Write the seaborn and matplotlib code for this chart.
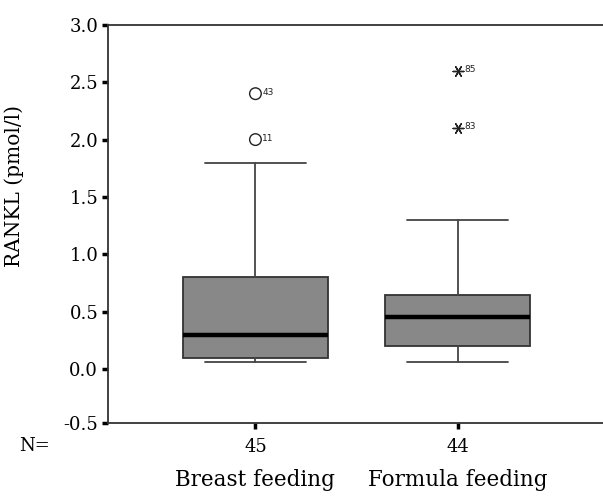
import numpy as np
import pandas as pd
import seaborn as sns
import matplotlib.pyplot as plt

# Summary values (SPSS-style boxplot)
groups = ["Breast feeding", "Formula feeding"]
n_counts = [45, 44]
medians = [0.30, 0.45]
q1 = [0.10, 0.20]
q3 = [0.80, 0.65]
whisker_low = [0.06, 0.06]
whisker_high = [1.80, 1.30]

# outliers (circles) and extremes (asterisks) with case numbers
out_group = ["Breast feeding", "Breast feeding", "Formula feeding", "Formula feeding"]
out_value = [2.0, 2.4, 2.1, 2.6]
out_case = ["11", "43", "83", "85"]
out_kind = ["outlier", "outlier", "extreme", "extreme"]

sns.set_theme(style="white")
plt.rcParams["font.family"] = ["DejaVu Serif"]

fig = plt.figure(figsize=(6.03, 4.96), dpi=100)
ax = fig.add_axes([0.179, 0.147, 0.821, 0.803])

stats = []
for i, g in enumerate(groups):
    stats.append({"med": medians[i], "q1": q1[i], "q3": q3[i],
                  "whislo": whisker_low[i], "whishi": whisker_high[i],
                  "fliers": [], "label": str(n_counts[i])})

edge = "#333333"
ax.bxp(stats, positions=range(len(groups)), widths=0.72, patch_artist=True,
       showfliers=False,
       boxprops=dict(facecolor="#888888", edgecolor=edge, linewidth=1.3),
       medianprops=dict(color="black", linewidth=3.2),
       whiskerprops=dict(color="#444444", linewidth=1.3),
       capprops=dict(color="#444444", linewidth=1.3),
       capwidths=0.5)

df_out = pd.DataFrame({"group": out_group, "value": out_value,
                       "case": out_case, "kind": out_kind})
df_out["x"] = df_out["group"].map({g: i for i, g in enumerate(groups)})

circ = df_out[df_out["kind"] == "outlier"]
ext = df_out[df_out["kind"] == "extreme"]
sns.scatterplot(data=circ, x="x", y="value", marker="o", s=70,
                facecolors="none", edgecolor="#222222", linewidth=1.0,
                legend=False, ax=ax)
sns.scatterplot(data=ext, x="x", y="value", marker=(6, 2, 30), s=60,
                color="#222222", linewidth=1.0, legend=False, ax=ax)
for _, r in df_out.iterrows():
    ax.annotate(r["case"], (r["x"], r["value"]), xytext=(5, 1),
                textcoords="offset points", fontsize=6.5,
                family="DejaVu Sans", color="#222222", va="center")

ax.set_xlim(-0.73, 1.72)
ax.set_ylim(-0.47, 3.0)
ax.set_yticks([-0.47, 0, 0.5, 1.0, 1.5, 2.0, 2.5, 3.0])
ax.set_yticklabels(["-0.5", "0.0", "0.5", "1.0", "1.5", "2.0", "2.5", "3.0"])
ax.set_xticks(range(len(groups)))
ax.set_xticklabels([str(n) for n in n_counts])
ax.set_xlabel("")
ax.set_ylabel("RANKL (pmol/l)", fontsize=14.5, color="black")
ax.yaxis.set_label_coords(-0.17, 0.595)

ax.tick_params(axis="both", which="major", direction="out", length=4,
               width=2.5, color="black", labelsize=13, labelcolor="black",
               left=True, bottom=True)
ax.tick_params(axis="y", pad=3)
ax.tick_params(axis="x", pad=7)

for side in ["left", "top", "bottom"]:
    ax.spines[side].set_color(edge)
    ax.spines[side].set_linewidth(1.3)
ax.spines["right"].set_visible(False)

for i, g in enumerate(groups):
    ax.text(i, -0.143, g, transform=ax.get_xaxis_transform(),
            ha="center", va="center", fontsize=15.5, color="black")

fig.text(35 / 603, 1 - 446 / 496, "N=", ha="center", va="center",
         fontsize=13, color="black")

fig.savefig("out.png", dpi=100)
